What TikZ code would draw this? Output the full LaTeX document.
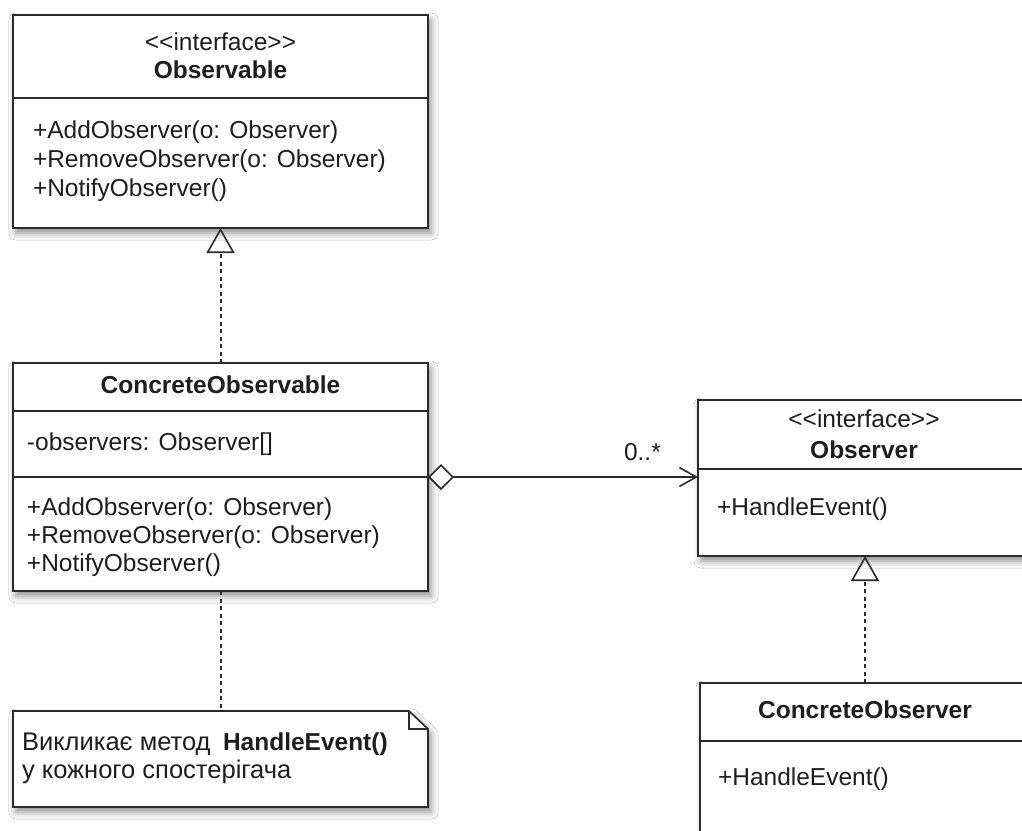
\documentclass[tikz,border=0pt]{standalone}
\usepackage{fontspec}
\setmainfont{Liberation Sans}[Ligatures=TeXOff]
\usetikzlibrary{arrows.meta,shadows.blur}
\definecolor{ln}{HTML}{2B2B2B}
\definecolor{tx}{HTML}{1E1E1E}
\tikzset{
  shad/.style={blur shadow={shadow xshift=3pt, shadow yshift=-5pt, shadow blur radius=7pt, shadow opacity=45}},
  umlbox/.style={draw=ln, line width=1.6pt, fill=white, rectangle, inner sep=0pt, outer sep=0pt, anchor=north west, shad},
  divline/.style={draw=ln, line width=1.6pt},
  txt/.style={text=tx, inner sep=0pt, outer sep=0pt, anchor=base west, font=\fontsize{24.5pt}{29pt}\selectfont},
  ntxt/.style={txt, font=\fontsize{25.5pt}{29pt}\selectfont},
  ctxt/.style={txt, anchor=base},
  btxt/.style={ctxt, font=\fontsize{24.5pt}{29pt}\selectfont\bfseries},
  realize/.style={draw=ln, line width=2pt, dash pattern=on 4pt off 3.5pt,
    -{Triangle[open, length=25pt, width=28pt, line width=1.6pt]}},
  noteline/.style={draw=ln, line width=2pt, dash pattern=on 4pt off 3.5pt},
  aggr/.style={draw=ln, line width=1.6pt,
    {Diamond[fill=white, length=26pt, width=26pt, line width=1.6pt]}-{Straight Barb[length=17pt, width=19pt, line width=1.6pt]}},
}
\begin{document}
\begin{tikzpicture}[x=1pt, y=1pt]
\useasboundingbox (0,0) rectangle (1022,-830);
\clip (0,0) rectangle (1022,-830);
\fill[white] (0,0) rectangle (1022,-830);

% Observable
\node[umlbox, minimum width=415pt, minimum height=213pt] (obs) at (13,-15) {};
\coordinate (obsd) at (13,-98);
\draw[divline] (obsd) -- (obsd -| obs.east);
\node[ctxt] (obsst) at (220.5,-50) {<<interface>>};
\node[btxt] (obsname) at (220.5,-78) {Observable};
\node[txt] (obsm1) at (33,-138.5) {+AddObserver(o: Observer)};
\node[txt] (obsm2) at (33,-167.5) {+RemoveObserver(o: Observer)};
\node[txt] (obsm3) at (33,-196.5) {+NotifyObserver()};

% ConcreteObservable
\node[umlbox, minimum width=415pt, minimum height=228pt] (cobs) at (13,-363) {};
\coordinate (cobsd1) at (13,-411);
\coordinate (cobsd2) at (13,-477);
\draw[divline] (cobsd1) -- (cobsd1 -| cobs.east);
\draw[divline] (cobsd2) -- (cobsd2 -| cobs.east);
\node[btxt] (cobsname) at (220.5,-393) {ConcreteObservable};
\node[txt] (cobsa) at (27,-450) {-observers: Observer[]};
\node[txt] (cobsm1) at (27,-515) {+AddObserver(o: Observer)};
\node[txt] (cobsm2) at (27,-543) {+RemoveObserver(o: Observer)};
\node[txt] (cobsm3) at (27,-571) {+NotifyObserver()};

% Observer
\node[umlbox, minimum width=332pt, minimum height=156pt] (obsr) at (698,-400) {};
\coordinate (obsrd) at (698,-469);
\draw[divline] (obsrd) -- (obsrd -| obsr.east);
\node[ctxt] (obsrst) at (864,-427) {<<interface>>};
\node[btxt] (obsrname) at (864,-458) {Observer};
\node[txt] (obsrm) at (717,-515) {+HandleEvent()};

% ConcreteObserver
\node[umlbox, minimum width=330pt, minimum height=180pt] (cobsr) at (700,-683) {};
\coordinate (cobsrd) at (700,-741);
\draw[divline] (cobsrd) -- (cobsrd -| cobsr.east);
\node[btxt] (cobsrname) at (865,-718) {ConcreteObserver};
\node[txt] (cobsrm) at (718,-785) {+HandleEvent()};

% Note
\node[rectangle, inner sep=0pt, outer sep=0pt, minimum width=415pt, minimum height=96pt, anchor=north west] (note) at (13,-711) {};
\path[draw=ln, line width=1.6pt, fill=white, line join=miter, shad]
  (note.north west) -- ([xshift=-19pt]note.north east) -- ([yshift=-18pt]note.north east)
  -- (note.south east) -- (note.south west) -- cycle;
\draw[ln, line width=1.6pt, line join=miter] ([xshift=-19pt]note.north east) -- ([xshift=-19pt,yshift=-18pt]note.north east) -- ([yshift=-18pt]note.north east);
\node[ntxt] (note1) at (22,-750) {Викликає метод};
\node[txt, font=\fontsize{24.5pt}{29pt}\selectfont\bfseries] (note1b) at (223,-750) {HandleEvent()};
\node[ntxt] (note2) at (22,-778) {у кожного спостерігача};

% Connectors
\draw[realize] (cobs.north) -- (obs.south);
\draw[realize] (cobsr.north) -- (cobsr.north |- obsr.south);
\draw[noteline] (cobs.south) -- (note.north);
\draw[aggr] (cobsd2 -| cobs.east) -- (cobsd2 -| obsr.west);
\node[txt] (mult) at (624,-460) {0..*};
\end{tikzpicture}
\end{document}
